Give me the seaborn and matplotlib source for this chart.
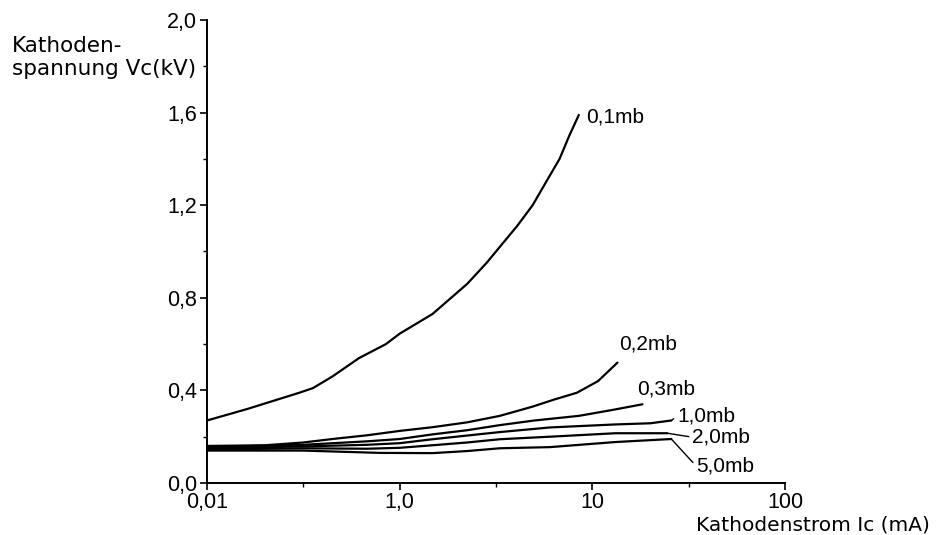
import matplotlib
matplotlib.use("Agg")
import matplotlib.pyplot as plt
import numpy as np
import pandas as pd
import seaborn as sns
from matplotlib.ticker import FixedLocator, FixedFormatter

# Kathodenspannung über Kathodenstrom für verschiedene Drücke
x_01 = [0.01, 0.0263, 0.091, 0.126, 0.2, 0.38, 0.72, 1.0, 1.48, 2.24, 2.82, 3.31, 4.07, 4.9, 5.75, 6.76, 7.59, 8.51]
y_01 = [0.27, 0.32, 0.39, 0.41, 0.46, 0.54, 0.60, 0.645, 0.73, 0.86, 0.95, 1.02, 1.11, 1.20, 1.30, 1.40, 1.50, 1.59]

x_02 = [0.01, 0.0398, 0.1, 0.2, 0.457, 1.0, 1.48, 2.24, 3.31, 4.9, 6.31, 8.32, 10.7, 13.5]
y_02 = [0.16, 0.163, 0.175, 0.19, 0.206, 0.225, 0.241, 0.262, 0.29, 0.33, 0.36, 0.39, 0.44, 0.52]

x_03 = [0.01, 0.1, 0.457, 1.0, 1.48, 2.24, 3.31, 5.0, 8.51, 12.6, 18.2]
y_03 = [0.155, 0.165, 0.18, 0.19, 0.21, 0.228, 0.25, 0.27, 0.29, 0.315, 0.34]

x_10 = [0.01, 0.1, 0.457, 1.0, 1.48, 2.24, 3.31, 6.03, 13.2, 20.0, 25.7]
y_10 = [0.15, 0.158, 0.165, 0.172, 0.189, 0.205, 0.22, 0.24, 0.253, 0.258, 0.27]

x_20 = [0.01, 0.1, 0.457, 1.0, 1.48, 2.24, 3.31, 6.03, 13.2, 24.5]
y_20 = [0.145, 0.15, 0.148, 0.152, 0.163, 0.175, 0.189, 0.20, 0.215, 0.215]

x_50 = [0.01, 0.1, 0.251, 0.631, 1.48, 2.24, 3.31, 6.03, 13.2, 25.7]
y_50 = [0.14, 0.14, 0.135, 0.13, 0.129, 0.138, 0.15, 0.155, 0.177, 0.19]

labels = ["0,1mb", "0,2mb", "0,3mb", "1,0mb", "2,0mb", "5,0mb"]
series_x = [x_01, x_02, x_03, x_10, x_20, x_50]
series_y = [y_01, y_02, y_03, y_10, y_20, y_50]

# Beschriftungspositionen (Datenkoordinaten) und Hinweislinien
label_pos = [(9.3, 1.58), (13.8, 0.60), (17.0, 0.404), (27.5, 0.288), (33.0, 0.198), (34.6, 0.073)]
leader = [False, False, False, True, True, True]

x_ticks = [0.01, 1.0, 10, 100]
x_ticklabels = ["0,01", "1,0", "10", "100"]
x_minor = [0.1, 10 ** 0.5, 10 ** 1.5]
y_ticks = [0.0, 0.4, 0.8, 1.2, 1.6, 2.0]
y_ticklabels = ["0,0", "0,4", "0,8", "1,2", "1,6", "2,0"]
y_minor = [0.2, 0.6, 1.0, 1.4, 1.8]

rows = []
for lab, xs, ys in zip(labels, series_x, series_y):
    for xv, yv in zip(xs, ys):
        rows.append({"Ic": xv, "Vc": yv, "p": lab})
df = pd.DataFrame(rows)


# Achse: 0,01..1,0 auf einem Abschnitt, danach Dekaden
def fwd(x):
    x = np.clip(np.asarray(x, dtype=float), 1e-6, None)
    l = np.log10(x)
    return np.where(l < 0, 1 + l / 2, 1 + l)


def inv(p):
    p = np.asarray(p, dtype=float)
    return np.where(p < 1, 10 ** (2 * (p - 1)), 10 ** (p - 1))


sns.set_style("ticks")
plt.rcParams['font.family'] = ['DejaVu Sans']

fig = plt.figure(figsize=(9.36, 5.35), dpi=100)
ax = fig.add_axes([207 / 936, 1 - 483 / 535, 578 / 936, 463 / 535])
ax.set_xscale("function", functions=(fwd, inv))

sns.lineplot(data=df, x="Ic", y="Vc", hue="p", palette=["black"] * len(labels),
             estimator=None, sort=False, linewidth=1.6, legend=False, ax=ax)

ax.set_xlim(0.01, 100)
ax.set_ylim(0, 2.0)
sns.despine(ax=ax)
for s in ["left", "bottom"]:
    ax.spines[s].set_linewidth(1.4)
    ax.spines[s].set_color("black")

ax.xaxis.set_major_locator(FixedLocator(x_ticks))
ax.xaxis.set_major_formatter(FixedFormatter(x_ticklabels))
ax.xaxis.set_minor_locator(FixedLocator(x_minor))
ax.yaxis.set_major_locator(FixedLocator(y_ticks))
ax.yaxis.set_major_formatter(FixedFormatter(y_ticklabels))
ax.yaxis.set_minor_locator(FixedLocator(y_minor))
ax.xaxis.set_minor_formatter(FixedFormatter([""] * len(x_minor)))
ax.yaxis.set_minor_formatter(FixedFormatter([""] * len(y_minor)))

ax.tick_params(which="major", direction="out", length=5, width=1.2, color="black")
ax.tick_params(which="minor", direction="out", length=3, width=1.0, color="black")
ax.tick_params(axis="y", which="major", pad=2)
ax.tick_params(axis="x", which="major", pad=1.5)
for t in ax.get_xticklabels() + ax.get_yticklabels():
    t.set_family(["Liberation Sans", "DejaVu Sans"])
    t.set_fontsize(15.5)
    t.set_color("black")

for lab, xs, ys, pos, ld in zip(labels, series_x, series_y, label_pos, leader):
    if ld:
        ax.annotate(lab, xy=(xs[-1], ys[-1]), xytext=pos, ha="left", va="center",
                    fontsize=15, color="black", family=["Liberation Sans", "DejaVu Sans"],
                    arrowprops=dict(arrowstyle="-", color="black", lw=1.0,
                                    shrinkA=0, shrinkB=0, relpos=(0, 0.5)))
    else:
        ax.text(pos[0], pos[1], lab, ha="left", va="center", fontsize=15, color="black",
                family=["Liberation Sans", "DejaVu Sans"])

ax.set_ylabel("Kathoden-\nspannung Vc(kV)", rotation=0, ha="left", va="top",
              multialignment="left", fontsize=15.5, color="black")
ax.yaxis.set_label_coords(-0.337, 0.966)
ax.set_xlabel("Kathodenstrom Ic (mA)", ha="right", va="baseline", fontsize=14.5, color="black")
ax.xaxis.set_label_coords(1.251, -0.1035)

fig.savefig("out.png", dpi=100)
